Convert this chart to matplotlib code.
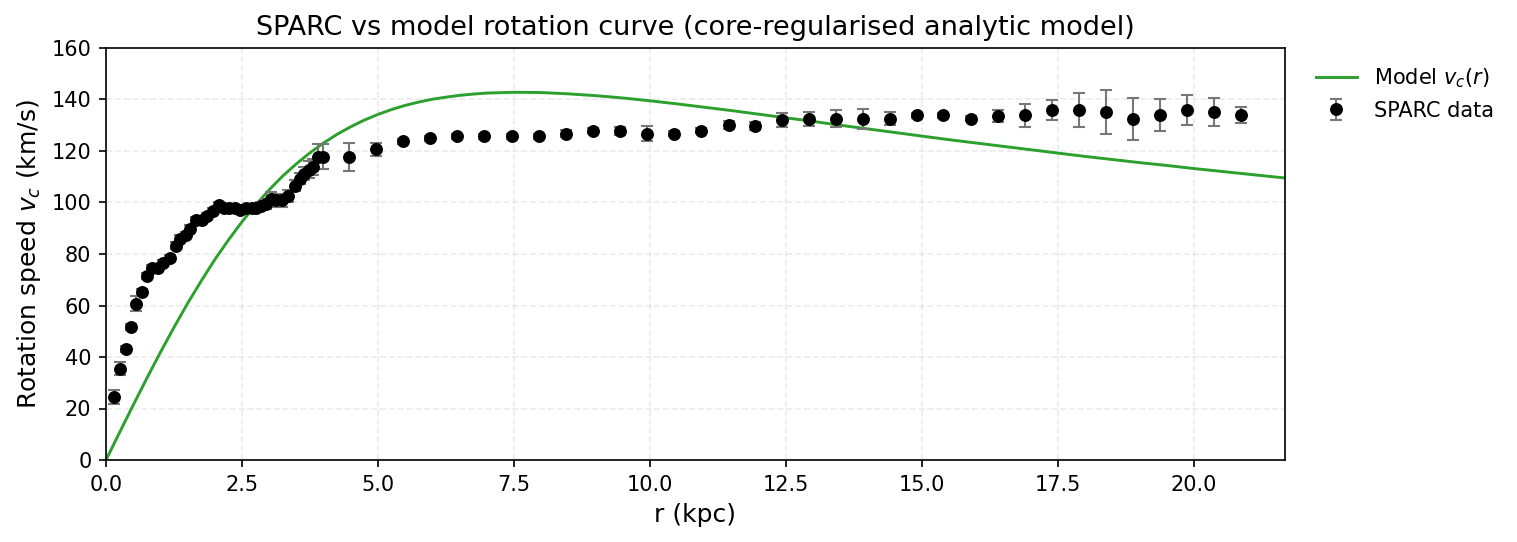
import matplotlib
matplotlib.use("Agg")
import matplotlib.pyplot as plt

# SPARC data
r_data = [0.15, 0.26, 0.36, 0.46, 0.56, 0.67, 0.76, 0.85, 0.96, 1.05, 1.17, 1.28,
          1.36, 1.47, 1.55, 1.65, 1.76, 1.86, 1.96, 2.07, 2.17, 2.27, 2.38, 2.47,
          2.58, 2.68, 2.76, 2.85, 2.95, 3.04, 3.13, 3.24, 3.35, 3.47, 3.56, 3.65,
          3.74, 3.81, 3.89, 3.99,
          4.47, 4.97, 5.46, 5.96, 6.46, 6.96, 7.47, 7.96, 8.46, 8.96, 9.46, 9.95,
          10.45, 10.95, 11.45, 11.93, 12.43, 12.92, 13.42, 13.92, 14.42, 14.91,
          15.40, 15.90, 16.40, 16.90, 17.39, 17.89, 18.38, 18.88, 19.38, 19.87,
          20.37, 20.87]
v_data = [24.4, 35.4, 43.0, 51.8, 60.7, 65.3, 71.5, 74.6, 74.6, 76.5, 78.5, 83.3,
          86.0, 87.3, 89.9, 93.1, 93.1, 94.7, 96.6, 99.0, 98.0, 98.0, 98.0, 97.2,
          98.0, 98.0, 98.0, 98.5, 99.3, 101.5, 100.9, 100.9, 102.5, 106.6, 109.3, 111.2,
          112.8, 113.8, 117.8, 117.8,
          117.8, 120.7, 123.8, 124.9, 125.7, 125.7, 125.7, 125.7, 126.7, 127.8, 127.8, 126.7,
          126.7, 127.8, 130.0, 129.8, 131.9, 132.5, 132.5, 132.5, 132.5, 133.9,
          133.9, 132.5, 133.7, 133.9, 135.9, 135.9, 135.1, 132.5, 133.9, 135.9,
          135.1, 133.9]
e_data = [2.6, 2.5, 1.2, 1.2, 2.8, 1.2, 1.2, 1.2, 1.2, 1.2, 1.2, 1.2,
          1.2, 1.2, 1.2, 1.2, 1.2, 1.2, 1.2, 1.2, 1.2, 1.2, 1.2, 1.2,
          1.2, 1.2, 1.2, 1.5, 2.0, 2.5, 2.5, 2.5, 2.5, 2.0, 2.0, 2.5,
          3.2, 3.2, 4.9, 4.9,
          5.5, 2.6, 1.0, 1.0, 1.0, 1.0, 1.0, 1.0, 1.3, 1.0, 1.5, 2.9,
          1.0, 1.0, 1.5, 1.5, 2.7, 2.7, 3.3, 3.8, 2.5, 1.0,
          1.0, 1.0, 2.3, 4.4, 3.9, 6.7, 8.5, 8.1, 6.2, 5.8,
          5.3, 3.1]

# Model curve values
r_model = [0.0, 0.25, 0.5, 0.75, 1.0, 1.25, 1.5, 1.75, 2.0, 2.25, 2.5, 2.75, 3.0,
           3.25, 3.5, 3.75, 4.0, 4.25, 4.5, 4.75, 5.0, 5.25, 5.5, 5.75,
           6.0, 6.25, 6.5, 6.75, 7.0, 7.5, 8.0, 8.5, 9.0, 9.5, 10.0, 10.5, 11.0, 11.5,
           12.0, 12.5, 13.0, 13.5, 14.0, 14.5, 15.0, 15.5, 16.0, 16.5, 17.0,
           17.5, 18.0, 18.5, 19.0, 19.5, 20.0, 20.5, 21.0, 21.5, 21.7]
v_model = [0.0, 10.7, 21.3, 31.7, 41.8, 51.5, 60.8, 69.5, 77.8, 85.4, 92.5, 99.0, 104.9,
           110.3, 115.0, 119.3, 123.1, 126.5, 129.4, 132.0, 134.2, 136.1, 137.7, 139.0,
           140.1, 140.9, 141.6, 142.1, 142.5, 142.8, 142.7, 142.2, 141.5, 140.6,
           139.5, 138.3, 137.0, 135.7, 134.3, 132.9, 131.5, 130.0, 128.6, 127.2,
           125.8, 124.4, 123.1, 121.8, 120.5, 119.2, 117.9, 116.7, 115.5, 114.4,
           113.2, 112.1, 111.0, 109.9, 109.5]

fig = plt.figure(figsize=(1517 / 150, 542 / 150), dpi=150)
ax = fig.add_axes([106 / 1517, 82 / 542, (1285 - 106) / 1517, (460 - 48) / 542])

ax.plot(r_model, v_model, color="#2ca02c", lw=1.4, label=r"Model $v_c(r)$", zorder=2)
ax.errorbar(r_data, v_data, yerr=e_data, fmt="o", color="black", ms=5.2,
            ecolor="#777777", elinewidth=1.0, capsize=3, capthick=1.0,
            label="SPARC data", zorder=3)

ax.set_xlim(0, 21.68)
ax.set_ylim(0, 160)
ax.set_yticks(range(0, 161, 20))
ax.set_xticks([0, 2.5, 5, 7.5, 10, 12.5, 15, 17.5, 20])
ax.set_xticklabels(["0.0", "2.5", "5.0", "7.5", "10.0", "12.5", "15.0", "17.5", "20.0"])
ax.grid(True, linestyle="--", color="#d8d8d8", alpha=0.5, lw=0.8)
ax.set_axisbelow(True)
ax.tick_params(labelsize=10)

ax.set_xlabel("r (kpc)", fontsize=12)
ax.set_ylabel(r"Rotation speed $v_c$ (km/s)", fontsize=12)
ax.set_title("SPARC vs model rotation curve (core-regularised analytic model)", fontsize=13)

ax.legend(loc="upper left", bbox_to_anchor=(1.01, 1.0), frameon=False, fontsize=10)

fig.savefig("out.png", dpi=150)
